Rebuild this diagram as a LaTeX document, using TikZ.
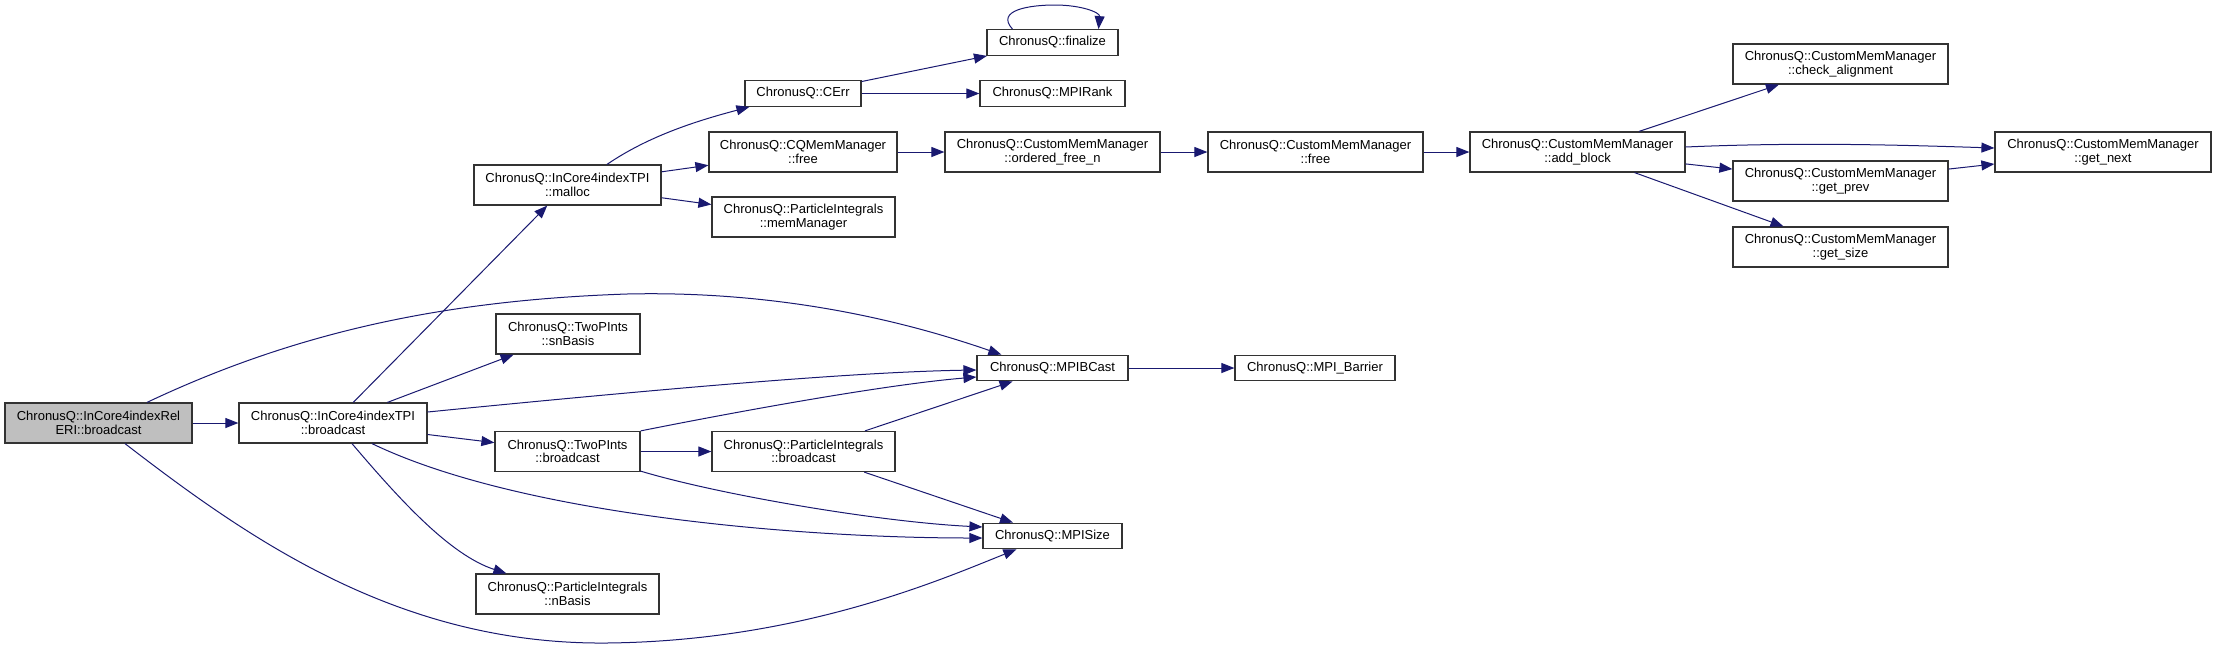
\documentclass[tikz,border=0pt]{standalone}
\usepackage{fontspec}
\setmainfont{Liberation Sans}
\usetikzlibrary{arrows.meta,calc}
\definecolor{edgec}{HTML}{191970}
\definecolor{nodefill}{HTML}{BFBFBF}
\begin{document}
\begin{tikzpicture}[x=0.5pt,y=-0.5pt,
  fn/.style={draw=black!80, line width=0.6pt, fill=white, inner sep=0pt, align=center,
             font=\fontsize{6.5pt}{6.7pt}\selectfont},
  tall/.style={minimum height=20pt},
  flat/.style={minimum height=12.8pt},
  call/.style={draw=edgec, line width=0.5pt, -{Triangle[length=6.5pt,width=5pt]}}]
\useasboundingbox (0,0) rectangle (2216,649);

\node[fn, tall, fill=nodefill, minimum width=93.5pt] (A) at (98.5,423) {ChronusQ::InCore4indexRel\\ERI::broadcast};
\node[fn, tall, minimum width=94pt]   (B) at (333,423)    {ChronusQ::InCore4indexTPI\\::broadcast};
\node[fn, tall, minimum width=93.5pt] (C) at (567.5,185)  {ChronusQ::InCore4indexTPI\\::malloc};
\node[fn, flat, minimum width=58pt]   (D) at (803,93.5)   {ChronusQ::CErr};
\node[fn, flat, minimum width=65.5pt] (E) at (1052.5,42.5) {ChronusQ::finalize};
\node[fn, flat, minimum width=72.5pt] (F) at (1052.5,93.5) {ChronusQ::MPIRank};
\node[fn, tall, minimum width=94pt]   (G) at (803,152)    {ChronusQ::CQMemManager\\::free};
\node[fn, tall, minimum width=107.5pt] (H) at (1052.5,152) {ChronusQ::CustomMemManager\\::ordered\_free\_n};
\node[fn, tall, minimum width=107.5pt] (I) at (1315.5,152) {ChronusQ::CustomMemManager\\::free};
\node[fn, tall, minimum width=107.5pt] (J) at (1577.5,152) {ChronusQ::CustomMemManager\\::add\_block};
\node[fn, tall, minimum width=107.5pt] (K) at (1840.5,64)  {ChronusQ::CustomMemManager\\::check\_alignment};
\node[fn, tall, minimum width=108pt]   (L) at (2103,152)   {ChronusQ::CustomMemManager\\::get\_next};
\node[fn, tall, minimum width=107.5pt] (M) at (1840.5,181) {ChronusQ::CustomMemManager\\::get\_prev};
\node[fn, tall, minimum width=107.5pt] (N) at (1840.5,247) {ChronusQ::CustomMemManager\\::get\_size};
\node[fn, tall, minimum width=91.5pt] (O) at (803.5,217)  {ChronusQ::ParticleIntegrals\\::memManager};
\node[fn, tall, minimum width=72pt]   (P) at (568,334)    {ChronusQ::TwoPInts\\::snBasis};
\node[fn, flat, minimum width=75.5pt] (Q) at (1052.5,368) {ChronusQ::MPIBCast};
\node[fn, flat, minimum width=80pt]   (R) at (1315,368)   {ChronusQ::MPI\_Barrier};
\node[fn, tall, minimum width=72.5pt] (S) at (567.5,451.5) {ChronusQ::TwoPInts\\::broadcast};
\node[fn, tall, minimum width=91.5pt] (T) at (803.5,451.5) {ChronusQ::ParticleIntegrals\\::broadcast};
\node[fn, flat, minimum width=69.5pt] (U) at (1052.5,536) {ChronusQ::MPISize};
\node[fn, tall, minimum width=91.5pt] (V) at (567.5,594)  {ChronusQ::ParticleIntegrals\\::nBasis};

% straight calls
\draw[call] (A.east) -- (B.west);
\draw[call] (B) -- (C);
\draw[call] (B) -- (P);
\draw[call] (B) -- (S);
\draw[call] (C) -- (G);
\draw[call] (C) -- (O);
\draw[call] (D) -- (E);
\draw[call] (D.east) -- (F.west);
\draw[call] (G.east) -- (H.west);
\draw[call] (H.east) -- (I.west);
\draw[call] (I.east) -- (J.west);
\draw[call] (J) -- (K);
\draw[call] (J) -- (M);
\draw[call] (J) -- (N);
\draw[call] (M) -- (L);
\draw[call] (Q.east) -- (R.west);
\draw[call] (S.east) -- (T.west);
\draw[call] (T) -- (Q);
\draw[call] (T) -- (U);

% curved calls
\draw[call] ($(A.north)+(48.5,0)$) .. controls (300,330) and (450,300) .. (627,294)
            .. controls (800,290) and (930,330) .. ($(Q.north west)+(25,0)$);
\draw[call] ($(A.south)+(26.5,0)$) .. controls (250,540) and (400,645) .. (607,643)
            .. controls (800,641) and (940,580) .. ($(U.south west)+(34,0)$);
\draw[call] ($(B.east)+(0,-11)$) .. controls (650,390) and (850,372) .. ($(Q.west)+(0,2)$);
\draw[call] ($(B.south)+(39,0)$) .. controls (520,515) and (800,538) .. ($(U.west)+(0,2)$);
\draw[call] ($(B.south)+(19,0)$) .. controls (400,500) and (450,555) .. ($(V.north west)+(31,0)$);
\draw[call] (S.north east) .. controls (720,415) and (880,385) .. ($(Q.west)+(0,9)$);
\draw[call] ($(S.south east)+(0,-1)$) .. controls (720,495) and (880,522) .. ($(U.west)+(0,-9)$);
\draw[call] ($(C.north)+(39.5,0)$) .. controls (650,135) and (700,120) .. ($(D.south west)+(5,0)$);
\draw[call] ($(E.north)+(-40,0)$) .. controls (995,10) and (1030,5) .. (1055,5)
            .. controls (1080,5) and (1100,12) .. ($(E.north)+(46,0)$);
\draw[call] ($(J.east)+(0,-5)$) .. controls (1800,142) and (1900,145) .. ($(L.west)+(0,-4)$);
\end{tikzpicture}
\end{document}
